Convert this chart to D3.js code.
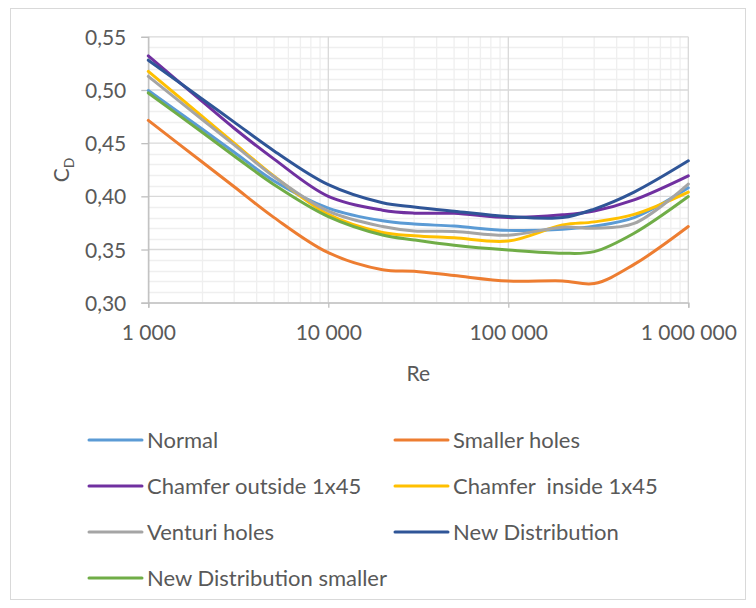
<!DOCTYPE html>
<html>
<head>
<meta charset="utf-8">
<script src="https://cdn.jsdelivr.net/npm/d3@7"></script>
<style>
  html, body { margin: 0; padding: 0; background: #fff; }
  svg { display: block; }
  text { font-family: Lato, "Open Sans", sans-serif; fill: #595959; }
</style>
</head>
<body>
<div id="chart"></div>
<script>
// ---------- data ----------
const reValues = [1000, 2000, 3000, 5000, 10000, 20000, 30000, 50000, 100000, 200000, 300000, 500000, 1000000];

const normal          = [0.4995, 0.463, 0.4415, 0.4145, 0.389, 0.377, 0.374, 0.372, 0.368, 0.369, 0.372, 0.380, 0.408];
const smallerHoles    = [0.4714, 0.432, 0.409, 0.380, 0.347, 0.331, 0.3295, 0.3255, 0.3203, 0.3205, 0.3180, 0.336, 0.3716];
const chamferOutside  = [0.532, 0.489, 0.464, 0.435, 0.400, 0.387, 0.3842, 0.384, 0.380, 0.3826, 0.3863, 0.3967, 0.4193];
const chamferInside   = [0.5175, 0.475, 0.450, 0.419, 0.383, 0.366, 0.363, 0.361, 0.358, 0.373, 0.376, 0.383, 0.404];
const venturiHoles    = [0.5128, 0.472, 0.4484, 0.4184, 0.386, 0.3716, 0.3675, 0.367, 0.3635, 0.371, 0.370, 0.3745, 0.4115];
const newDistribution = [0.528, 0.4913, 0.4698, 0.4427, 0.411, 0.394, 0.390, 0.386, 0.381, 0.380, 0.388, 0.404, 0.4334];
const newDistSmaller  = [0.4972, 0.460, 0.438, 0.411, 0.381, 0.3637, 0.359, 0.354, 0.3495, 0.3465, 0.348, 0.3653, 0.3998];

const seriesNames  = ["Normal", "Smaller holes", "Chamfer outside 1x45", "Chamfer  inside 1x45", "Venturi holes", "New Distribution", "New Distribution smaller"];
const seriesValues = [normal, smallerHoles, chamferOutside, chamferInside, venturiHoles, newDistribution, newDistSmaller];
const seriesColors = ["#5B9BD5", "#ED7D31", "#7030A0", "#FFC000", "#A5A5A5", "#2F5597", "#70AD47"];

const xTicks = [1000, 10000, 100000, 1000000];
const xTickLabels = ["1 000", "10 000", "100 000", "1 000 000"];
const yTicks = [0.30, 0.35, 0.40, 0.45, 0.50, 0.55];
const yTickLabels = ["0,30", "0,35", "0,40", "0,45", "0,50", "0,55"];
const xTitle = "Re";

// ---------- layout ----------
const W = 756, H = 608;
const plot = { left: 148.3, right: 688.3, top: 36.8, bottom: 302.7 };

const svg = d3.select("#chart").append("svg")
  .attr("width", W).attr("height", H);

// chart border
svg.append("rect")
  .attr("x", 10.5).attr("y", 8.5)
  .attr("width", 735).attr("height", 591)
  .attr("fill", "#fff").attr("stroke", "#d9d9d9").attr("stroke-width", 1);

const x = d3.scaleLog().domain([1000, 1000000]).range([plot.left, plot.right]);
const y = d3.scaleLinear().domain([0.30, 0.55]).range([plot.bottom, plot.top]);

const g = svg.append("g");

// minor gridlines
const minorY = d3.range(30, 56).map(v => v / 100).filter(v => Math.round(v * 100) % 5 !== 0);
g.append("g").selectAll("line").data(minorY).join("line")
  .attr("x1", plot.left).attr("x2", plot.right)
  .attr("y1", d => Math.round(y(d)) + 0.5).attr("y2", d => Math.round(y(d)) + 0.5)
  .attr("stroke", "#efefef").attr("stroke-width", 1.3);

const minorX = [];
[1000, 10000, 100000].forEach(dec => { for (let k = 2; k <= 9; k++) minorX.push(dec * k); });
g.append("g").selectAll("line").data(minorX).join("line")
  .attr("y1", plot.top).attr("y2", plot.bottom)
  .attr("x1", d => x(d)).attr("x2", d => x(d))
  .attr("stroke", "#efefef").attr("stroke-width", 1.3);

// major gridlines
g.append("g").selectAll("line").data(yTicks).join("line")
  .attr("x1", plot.left).attr("x2", plot.right)
  .attr("y1", d => y(d)).attr("y2", d => y(d))
  .attr("stroke", "#d9d9d9").attr("stroke-width", 1.3);
g.append("g").selectAll("line").data(xTicks).join("line")
  .attr("y1", plot.top).attr("y2", plot.bottom)
  .attr("x1", d => x(d)).attr("x2", d => x(d))
  .attr("stroke", "#d9d9d9").attr("stroke-width", 1.3);

// axes
const yAxis = d3.axisLeft(y).tickValues(yTicks).tickSize(7)
  .tickFormat((d, i) => yTickLabels[i]).tickPadding(15);
const yAxisG = svg.append("g").attr("transform", `translate(${plot.left},0)`).call(yAxis);
yAxisG.select(".domain").attr("stroke", "#bfbfbf").attr("stroke-width", 1.3);
yAxisG.selectAll(".tick line").attr("stroke", "#bfbfbf").attr("stroke-width", 1.3);
yAxisG.selectAll(".tick text").style("font-family", "Lato").style("font-size", "21px")
  .attr("fill", "#595959").attr("dy", "0.36em");

const xAxis = d3.axisBottom(x).tickValues(xTicks).tickSize(5)
  .tickFormat((d, i) => xTickLabels[i]).tickPadding(17);
const xAxisG = svg.append("g").attr("transform", `translate(0,${plot.bottom})`).call(xAxis);
xAxisG.select(".domain").attr("stroke", "#bfbfbf").attr("stroke-width", 1.3);
xAxisG.selectAll(".tick line").attr("stroke", "#bfbfbf").attr("stroke-width", 1.3);
xAxisG.selectAll(".tick text").style("font-family", "Lato").style("font-size", "21px")
  .attr("fill", "#595959").attr("dy", "0.72em");

// axis titles
svg.append("text")
  .attr("x", (plot.left + plot.right) / 2).attr("y", 381)
  .attr("text-anchor", "middle").style("font-size", "21px")
  .text(xTitle);

const yt = svg.append("text")
  .attr("transform", "translate(69,170) rotate(-90)")
  .attr("text-anchor", "middle").style("font-size", "21px");
yt.append("tspan").text("C");
yt.append("tspan").attr("dy", 5).style("font-size", "14px").text("D");

// lines
const line = d3.line()
  .x(d => x(d[0])).y(d => y(d[1]))
  .curve(d3.curveCatmullRom.alpha(0.5));

seriesValues.forEach((vals, i) => {
  svg.append("path")
    .datum(reValues.map((r, j) => [r, vals[j]]))
    .attr("fill", "none")
    .attr("stroke", seriesColors[i])
    .attr("stroke-width", 3)
    .attr("stroke-linecap", "round")
    .attr("stroke-linejoin", "round")
    .attr("d", line);
});

// legend
const legendCols = [89, 395];
const legendRows = [440, 486, 532, 578];
const lg = svg.append("g");
seriesNames.forEach((name, i) => {
  const cx = legendCols[i % 2];
  const cy = legendRows[Math.floor(i / 2)];
  lg.append("line")
    .attr("x1", cx).attr("x2", cx + 53)
    .attr("y1", cy).attr("y2", cy)
    .attr("stroke", seriesColors[i]).attr("stroke-width", 3).attr("stroke-linecap", "round");
  lg.append("text")
    .attr("x", cx + 58).attr("y", cy).attr("dy", "0.36em")
    .style("font-size", "22px").style("white-space", "pre")
    .attr("xml:space", "preserve")
    .text(name);
});
</script>
</body>
</html>
